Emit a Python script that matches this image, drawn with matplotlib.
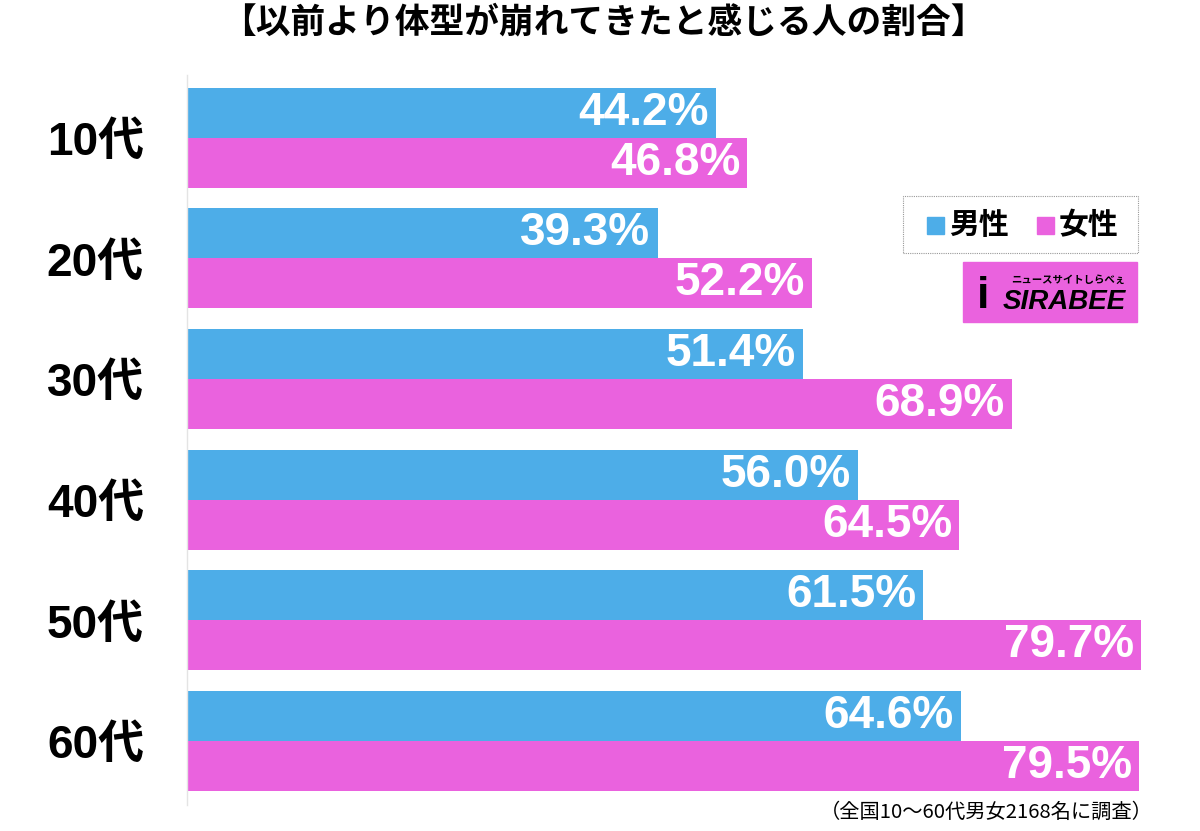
import matplotlib.pyplot as plt
from matplotlib.patches import Rectangle

# データ
ages = ['10代', '20代', '30代', '40代', '50代', '60代']
male = [44.2, 39.3, 51.4, 56.0, 61.5, 64.6]
female = [46.8, 52.2, 68.9, 64.5, 79.7, 79.5]
series_names = ['男性', '女性']

title = '【以前より体型が崩れてきたと感じる人の割合】'
note = '（全国10〜60代男女2168名に調査）'

blue = '#4dade8'
pink = '#ea62de'
jp = ['Noto Sans CJK JP', 'DejaVu Sans']
mix = ['Liberation Sans', 'Noto Sans CJK JP']

fig = plt.figure(figsize=(12, 8.31), dpi=100)
ax = fig.add_axes([187 / 1200, 1 - 805 / 831, 958 / 1200, 730 / 831])

h = 0.415
pos = list(range(len(ages)))
ax.barh([p - h / 2 for p in pos], male, height=h, color=blue)
ax.barh([p + h / 2 for p in pos], female, height=h, color=pink)

for p, m, f in zip(pos, male, female):
    ax.text(m - 0.6, p - h / 2, f'{m:.1f}%', ha='right', va='center',
            color='white', fontsize=33, fontweight='bold', family='Liberation Sans')
    ax.text(f - 0.6, p + h / 2, f'{f:.1f}%', ha='right', va='center',
            color='white', fontsize=33, fontweight='bold', family='Liberation Sans')

ax.set_xlim(0, 80)
ax.set_ylim(5.53, -0.52)
ax.set_xticks([])
ax.set_yticks(pos)
ax.set_yticklabels(ages, fontsize=33, fontweight='bold', family=mix)
ax.tick_params(axis='y', length=0, pad=31)
for s in ['top', 'right', 'bottom']:
    ax.spines[s].set_visible(False)
ax.spines['left'].set_color('#e4e4e4')
ax.spines['left'].set_linewidth(1)

fig.text(603 / 1200, 1 - 22 / 831, title, ha='center', va='center',
         fontsize=25, fontweight='bold', family=jp)
fig.text(1153 / 1200, 1 - 812 / 831, note, ha='right', va='center',
         fontsize=14.6, family=jp)

# 凡例
fig.patches.append(Rectangle((903 / 1200, 1 - 253 / 831), 235 / 1200, 57 / 831,
                             transform=fig.transFigure, fill=False,
                             edgecolor='#999999', linestyle=(0, (1, 1)), linewidth=0.8))
fig.patches.append(Rectangle((927 / 1200, 1 - 234 / 831), 17 / 1200, 17 / 831,
                             transform=fig.transFigure, color=blue))
fig.text(949 / 1200, 1 - 225 / 831, series_names[0], ha='left', va='center',
         fontsize=21.5, fontweight='bold', family=jp)
fig.patches.append(Rectangle((1037 / 1200, 1 - 234 / 831), 17 / 1200, 17 / 831,
                             transform=fig.transFigure, color=pink))
fig.text(1059 / 1200, 1 - 225 / 831, series_names[1], ha='left', va='center',
         fontsize=21.5, fontweight='bold', family=jp)

# ロゴ
fig.patches.append(Rectangle((963 / 1200, 1 - 322 / 831), 174 / 1200, 60 / 831,
                             transform=fig.transFigure, color=pink))
fig.text(1003 / 1200, 1 - 302 / 831, 'SIRABEE', ha='left', va='center',
         fontsize=20, fontweight='bold', style='italic', family='Liberation Sans')
fig.text(1068 / 1200, 1 - 280 / 831, 'ニュースサイトしらべぇ', ha='center', va='center',
         fontsize=7.5, fontweight='bold', family=jp)
fig.text(983 / 1200, 1 - 296 / 831, 'i', ha='center', va='center',
         fontsize=32, fontweight='bold', family='Liberation Sans')

fig.savefig('out.png', dpi=100, facecolor='white')
